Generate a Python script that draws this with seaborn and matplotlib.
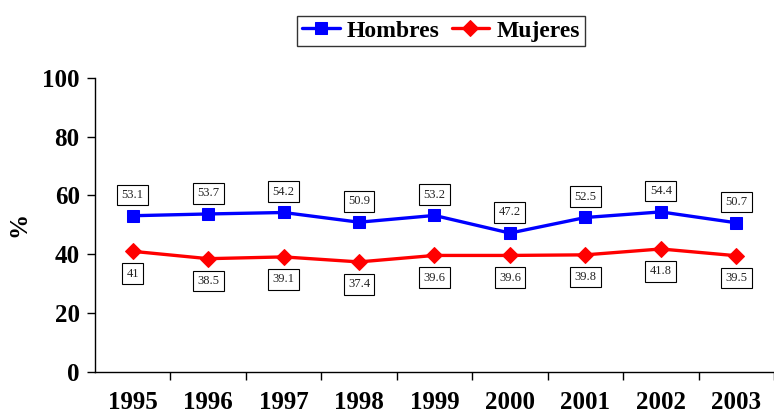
import numpy as np
import matplotlib
matplotlib.use("Agg")
import matplotlib.pyplot as plt
import pandas as pd
import seaborn as sns

# Data
years = ['1995', '1996', '1997', '1998', '1999', '2000', '2001', '2002', '2003']
hombres = [53.1, 53.7, 54.2, 50.9, 53.2, 47.2, 52.5, 54.4, 50.7]
mujeres = [41, 38.5, 39.1, 37.4, 39.6, 39.6, 39.8, 41.8, 39.5]

df = pd.DataFrame({'year': years, 'Hombres': hombres, 'Mujeres': mujeres})
df['x'] = np.arange(len(years))

sns.set_style("white")
plt.rcParams['font.family'] = ['Liberation Serif', 'DejaVu Serif']
plt.rcParams['text.color'] = 'black'
plt.rcParams['axes.labelcolor'] = 'black'
plt.rcParams['xtick.color'] = 'black'
plt.rcParams['ytick.color'] = 'black'

fig = plt.figure(figsize=(7.74, 4.16), dpi=100)
ax = fig.add_axes([0.1227, 0.106, 0.8773, 0.707])

sns.lineplot(data=df, x='x', y='Hombres', ax=ax, color='#0000FF', lw=2.4,
             marker='s', markersize=9, markeredgecolor='#0000FF', label='Hombres')
sns.lineplot(data=df, x='x', y='Mujeres', ax=ax, color='#FF0000', lw=2.4,
             marker='D', markersize=8, markeredgecolor='#FF0000', label='Mujeres')

box = dict(boxstyle='square,pad=0.35', fc='white', ec='black', lw=0.8)
for i, v in enumerate(hombres):
    ax.annotate(f'{v:g}', (i, v), xytext=(0, 15), textcoords='offset points',
                ha='center', va='center', fontsize=9, color='#222222', bbox=box)
for i, v in enumerate(mujeres):
    ax.annotate(f'{v:g}', (i, v), xytext=(0, -16), textcoords='offset points',
                ha='center', va='center', fontsize=9, color='#222222', bbox=box)

ax.set_ylim(0, 100)
ax.set_xlim(-0.5, 8.376)
ax.set_yticks([0, 20, 40, 60, 80, 100])
ax.set_yticklabels([str(t) for t in [0, 20, 40, 60, 80, 100]],
                   fontsize=18, fontweight='bold')
ax.set_xticks(np.arange(len(years)))
ax.set_xticklabels(years, fontsize=18, fontweight='bold')
ax.set_xticks(np.arange(len(years)) + 0.5, minor=True)
ax.tick_params(axis='x', which='major', bottom=True, length=0, pad=14)
ax.tick_params(axis='x', which='minor', bottom=True, length=6, width=1,
               direction='out', color='black')
ax.tick_params(axis='y', left=True, length=6, width=1, direction='out',
               color='black', pad=5)
ax.set_xlabel('')
ax.set_ylabel('%', fontsize=18, fontweight='bold')
ax.yaxis.set_label_coords(-0.095, 0.5)

for s in ['top', 'right']:
    ax.spines[s].set_visible(False)
for s in ['left', 'bottom']:
    ax.spines[s].set_color('black')
    ax.spines[s].set_linewidth(1)

leg = ax.legend(loc='center', bbox_to_anchor=(441 / 774, 1 - 31 / 416),
                bbox_transform=fig.transFigure, ncol=2, frameon=True, fancybox=False,
                prop={'weight': 'bold', 'size': 17}, handlelength=1.6,
                columnspacing=0.5, handletextpad=0.3, borderpad=0.2,
                borderaxespad=0)
leg.get_frame().set_edgecolor('black')
leg.get_frame().set_linewidth(1)

plt.savefig('out.png', dpi=100)
